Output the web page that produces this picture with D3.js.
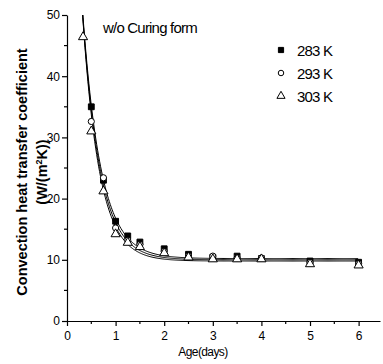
<!DOCTYPE html>
<html>
<head>
<meta charset="utf-8">
<script src="https://cdn.jsdelivr.net/npm/d3@7"></script>
<style>
  body { margin: 0; background: #fff; }
  text { font-family: "Liberation Sans", Arial, sans-serif; fill: #000; }
</style>
</head>
<body>
<svg id="chart" width="383" height="364"></svg>
<script>
// ----------------------------
// Data
// ----------------------------
var seriesNames = ["283 K", "293 K", "303 K"];
var ages = [0.33, 0.5, 0.75, 1, 1.25, 1.5, 2, 2.5, 3, 3.5, 4, 5, 6];
var h283 = [null, 35.0, 23.0, 16.3, 13.9, 12.9, 11.8, 10.9, 10.4, 10.6, 10.2, 9.8, 9.6];
var h293 = [null, 32.6, 23.4, 15.2, 13.2, 12.5, 11.4, 10.6, 10.6, 10.3, 10.3, 9.6, 9.4];
var h303 = [46.4, 31.0, 21.2, 14.2, 12.8, 12.1, 11.1, 10.4, 10.1, 10.1, 10.1, 9.3, 9.1];
// ExpDec1 fit parameters: y = y0 + A * exp(-x / t)
var fitY0 = [10.2, 10.0, 9.8];
var fitA = [95, 98, 102];
var fitT = [0.375, 0.36, 0.345];

var xTicks = [0, 1, 2, 3, 4, 5, 6];
var yTicks = [0, 10, 20, 30, 40, 50];

// ----------------------------
// Layout
// ----------------------------
var svg = d3.select("#chart");
var plotLeft = 67, plotRight = 380, plotTop = 15, plotBottom = 321;

var x = d3.scaleLinear().domain([0, 6.44]).range([plotLeft, plotRight]);
var y = d3.scaleLinear().domain([0, 50]).range([plotBottom, plotTop]);

// Axes
var xAxis = d3.axisBottom(x).tickValues(xTicks).tickFormat(d3.format("d"))
    .tickSize(5).tickSizeOuter(0).tickPadding(5);
var yAxis = d3.axisLeft(y).tickValues(yTicks).tickFormat(d3.format("d"))
    .tickSize(5).tickSizeOuter(0).tickPadding(2);

var gx = svg.append("g").attr("transform", "translate(0," + plotBottom + ")").call(xAxis);
var gy = svg.append("g").attr("transform", "translate(" + plotLeft + ",0)").call(yAxis);

[gx, gy].forEach(function (g) {
    g.select(".domain").attr("stroke", "#000").attr("stroke-width", 1.2);
    g.selectAll(".tick line").attr("stroke", "#000").attr("stroke-width", 1.2);
    g.selectAll(".tick text").attr("font-size", 12).attr("font-family", "Liberation Sans, Arial, sans-serif");
});

// Minor ticks
var xMinor = d3.range(0.5, 6.4, 1);
svg.append("g").selectAll("line").data(xMinor).join("line")
    .attr("x1", d => x(d)).attr("x2", d => x(d))
    .attr("y1", plotBottom).attr("y2", plotBottom + 3)
    .attr("stroke", "#000").attr("stroke-width", 1.2);
var yMinor = d3.range(5, 50, 10);
svg.append("g").selectAll("line").data(yMinor).join("line")
    .attr("x1", plotLeft - 3).attr("x2", plotLeft)
    .attr("y1", d => y(d)).attr("y2", d => y(d))
    .attr("stroke", "#000").attr("stroke-width", 1.2);

// Axis titles
svg.append("text")
    .attr("x", 203).attr("y", 356)
    .attr("text-anchor", "middle")
    .attr("font-size", 12).attr("letter-spacing", -0.6)
    .text("Age(days)");

svg.append("text")
    .attr("transform", "translate(27,172) rotate(-90)")
    .attr("text-anchor", "middle")
    .attr("font-size", 14.5).attr("font-weight", "bold")
    .text("Convection heat transfer coefficient");

var yl2 = svg.append("text")
    .attr("transform", "translate(47,172) rotate(-90)")
    .attr("text-anchor", "middle")
    .attr("font-size", 14.5).attr("font-weight", "bold");
yl2.append("tspan").text("(W/(m");
yl2.append("tspan").attr("font-size", 9).attr("dy", -5).text("2");
yl2.append("tspan").attr("dy", 5).text("K))");

// Annotation
svg.append("text")
    .attr("x", 103).attr("y", 33)
    .attr("font-size", 15).attr("letter-spacing", -0.8)
    .text("w/o Curing form");

// ----------------------------
// Fit curves
// ----------------------------
svg.append("clipPath").attr("id", "plotclip")
    .append("rect").attr("x", plotLeft).attr("y", plotTop)
    .attr("width", plotRight - plotLeft).attr("height", plotBottom - plotTop);

var xs = d3.range(0.25, 6.0001, 0.02);
var line = d3.line().x(d => x(d[0])).y(d => y(d[1]));
seriesNames.forEach(function (name, i) {
    var pts = xs.map(function (v) { return [v, fitY0[i] + fitA[i] * Math.exp(-v / fitT[i])]; });
    svg.append("path")
        .attr("clip-path", "url(#plotclip)")
        .attr("d", line(pts))
        .attr("fill", "none")
        .attr("stroke", "#000")
        .attr("stroke-width", 1);
});

// ----------------------------
// Markers
// ----------------------------
var seriesVals = [h283, h293, h303];
var symbols = [d3.symbolSquare, d3.symbolCircle, d3.symbolTriangle];
var sizes = [34, 30, 36];
var fills = ["#000", "#fff", "#fff"];

seriesVals.forEach(function (vals, i) {
    var pts = ages.map((a, k) => [a, vals[k]]).filter(d => d[1] !== null);
    svg.append("g").selectAll("path").data(pts).join("path")
        .attr("transform", d => "translate(" + x(d[0]) + "," + y(d[1]) + ")")
        .attr("d", d3.symbol().type(symbols[i]).size(sizes[i]))
        .attr("fill", fills[i])
        .attr("stroke", "#000")
        .attr("stroke-width", 1);
});

// Legend
var legend = svg.append("g");
seriesNames.forEach(function (name, i) {
    var ly = 50 + i * 23;
    legend.append("path")
        .attr("transform", "translate(281," + ly + ")")
        .attr("d", d3.symbol().type(symbols[i]).size(sizes[i] * 0.8))
        .attr("fill", fills[i]).attr("stroke", "#000").attr("stroke-width", 1);
    legend.append("text")
        .attr("x", 297).attr("y", ly + 6)
        .attr("font-size", 15).attr("letter-spacing", -0.8)
        .text(name);
});
</script>
</body>
</html>
